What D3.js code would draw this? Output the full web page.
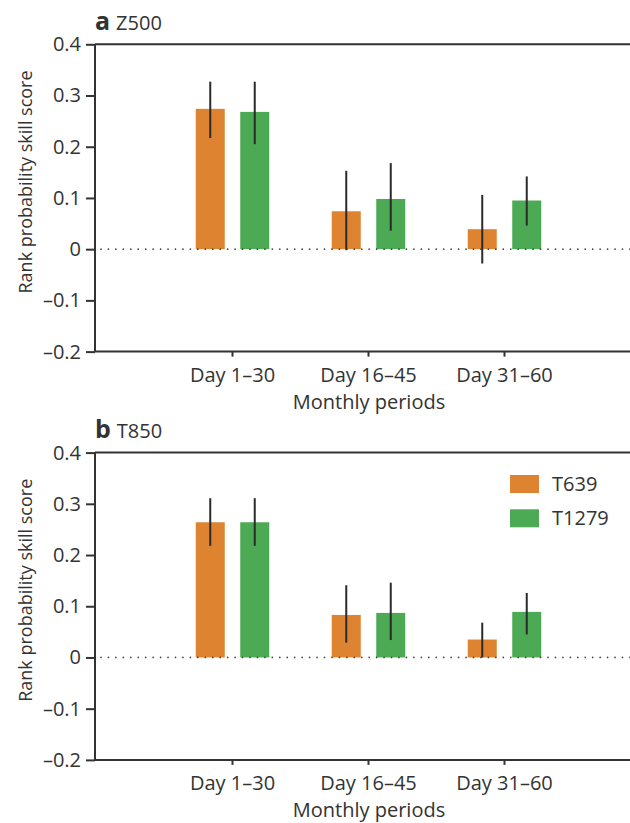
<!DOCTYPE html>
<html>
<head>
<meta charset="utf-8">
<script src="https://cdn.jsdelivr.net/npm/d3@7"></script>
<style>
  html, body { margin: 0; padding: 0; background: #fff; }
  svg { display: block; }
  text { font-family: "Open Sans", "Noto Sans", sans-serif; fill: #333; }
</style>
</head>
<body>
<svg id="chart" width="630" height="823"></svg>
<script>
// Monthly periods on the x axis
const categories = ["Day 1–30", "Day 16–45", "Day 31–60"];
// Model resolutions compared
const series = ["T639", "T1279"];
const seriesColors = ["#de8430", "#4caa54"];

// Panel a: Z500 rank probability skill score, with uncertainty ranges
const z500T639 = [0.274, 0.074, 0.039];
const z500T639Low = [0.217, -0.002, -0.028];
const z500T639High = [0.327, 0.153, 0.106];
const z500T1279 = [0.268, 0.098, 0.095];
const z500T1279Low = [0.205, 0.036, 0.046];
const z500T1279High = [0.327, 0.168, 0.142];

// Panel b: T850 rank probability skill score, with uncertainty ranges
const t850T639 = [0.264, 0.083, 0.035];
const t850T639Low = [0.218, 0.029, 0.0];
const t850T639High = [0.311, 0.141, 0.068];
const t850T1279 = [0.264, 0.087, 0.089];
const t850T1279Low = [0.218, 0.034, 0.045];
const t850T1279High = [0.311, 0.146, 0.126];

const yTicks = [-0.2, -0.1, 0, 0.1, 0.2, 0.3, 0.4];
const yTickLabels = ["–0.2", "–0.1", "0", "0.1", "0.2", "0.3", "0.4"];

const panels = [
  { letter: "a", name: "Z500", top: 44.3, legend: false,
    values: [z500T639, z500T1279], low: [z500T639Low, z500T1279Low], high: [z500T639High, z500T1279High] },
  { letter: "b", name: "T850", top: 452.6, legend: true,
    values: [t850T639, t850T1279], low: [t850T639Low, t850T1279Low], high: [t850T639High, t850T1279High] }
];

const svg = d3.select("#chart");
const W = 630;
const axisX = 95;
const plotH = 307.3;
const ink = "#333";

const x = d3.scaleBand().domain(categories).range([164.5, 572.5]).padding(0);
const xInner = d3.scaleBand().domain(series).range([-36.75, 36.75]).paddingInner(0.348);
const color = d3.scaleOrdinal().domain(series).range(seriesColors);

panels.forEach(p => {
  const g = svg.append("g").attr("transform", `translate(0,${p.top})`);
  const y = d3.scaleLinear().domain([-0.2, 0.4]).range([plotH, 0]);

  // Rows of the table: one entry per bar
  const rows = [];
  series.forEach((s, si) => {
    categories.forEach((c, ci) => {
      rows.push({ s, c, v: p.values[si][ci], lo: p.low[si][ci], hi: p.high[si][ci] });
    });
  });
  const barX = d => x(d.c) + x.bandwidth() / 2 + xInner(d.s);

  // Bars
  g.selectAll("rect.bar").data(rows).join("rect")
    .attr("class", "bar")
    .attr("x", barX)
    .attr("width", xInner.bandwidth())
    .attr("y", d => y(Math.max(0, d.v)))
    .attr("height", d => Math.abs(y(d.v) - y(0)))
    .attr("fill", d => color(d.s));

  // Dotted zero line
  g.append("line")
    .attr("x1", axisX + 6).attr("x2", W)
    .attr("y1", y(0)).attr("y2", y(0))
    .attr("stroke", "#444").attr("stroke-width", 1.7)
    .attr("stroke-linecap", "round")
    .attr("stroke-dasharray", "0 7.45");

  // Error bars
  g.selectAll("line.err").data(rows).join("line")
    .attr("class", "err")
    .attr("x1", d => barX(d) + xInner.bandwidth() / 2)
    .attr("x2", d => barX(d) + xInner.bandwidth() / 2)
    .attr("y1", d => y(d.lo)).attr("y2", d => y(d.hi))
    .attr("stroke", "#2a2a2a").attr("stroke-width", 2);

  // Left axis
  const yAxis = d3.axisLeft(y).tickValues(yTicks)
    .tickFormat((d, i) => yTickLabels[i]).tickSize(9).tickPadding(5);
  const ya = g.append("g").attr("transform", `translate(${axisX},0)`).call(yAxis);
  ya.select(".domain").attr("stroke", ink).attr("stroke-width", 2).attr("d", `M0,${y(0.4)}V${y(-0.2)}`);
  ya.selectAll(".tick line").attr("stroke", ink).attr("stroke-width", 2);
  ya.selectAll(".tick text").attr("font-size", 20).attr("fill", ink)
    .style("font-family", '"Open Sans", sans-serif');

  // Top frame line and bottom axis line
  g.append("line").attr("x1", axisX).attr("x2", W).attr("y1", y(0.4)).attr("y2", y(0.4))
    .attr("stroke", ink).attr("stroke-width", 2);

  const xAxis = d3.axisBottom(x).tickSize(5).tickPadding(10);
  const xa = g.append("g").attr("transform", `translate(0,${plotH})`).call(xAxis);
  xa.select(".domain").attr("stroke", ink).attr("stroke-width", 2).attr("d", `M${axisX},0H${W}`);
  xa.selectAll(".tick line").attr("stroke", ink).attr("stroke-width", 2);
  xa.selectAll(".tick text").attr("font-size", 20).attr("fill", ink)
    .attr("dy", null).attr("y", 30)
    .style("font-family", '"Open Sans", sans-serif');

  // Axis titles
  g.append("text")
    .attr("x", 369).attr("y", plotH + 57.5)
    .attr("text-anchor", "middle").attr("font-size", 20)
    .text("Monthly periods");

  g.append("text")
    .attr("transform", `translate(32,${y(0.1) - 16}) rotate(-90)`)
    .attr("text-anchor", "middle").attr("font-size", 18)
    .text("Rank probability skill score");

  // Panel title
  const title = g.append("text").attr("x", axisX).attr("y", -14.3).attr("font-size", 20);
  title.append("tspan").attr("font-weight", 700).attr("font-size", 25).text(p.letter);
  title.append("tspan").attr("dx", 6).text(p.name);

  // Legend
  if (p.legend) {
    const lg = g.selectAll("g.leg").data(series).join("g")
      .attr("class", "leg")
      .attr("transform", (d, i) => `translate(510,${22.4 + i * 34.3})`);
    lg.append("rect").attr("width", 29).attr("height", 18).attr("fill", d => color(d));
    lg.append("text").attr("x", 42).attr("y", 16).attr("font-size", 20).text(d => d);
  }
});
</script>
</body>
</html>
